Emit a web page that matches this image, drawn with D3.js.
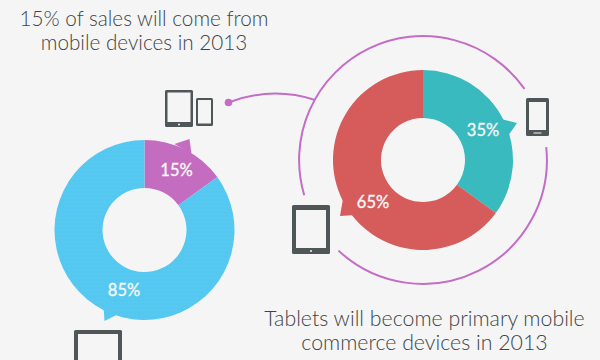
<!DOCTYPE html>
<html>
<head>
<meta charset="utf-8">
<title>Mobile sales donuts</title>
<script src="https://d3js.org/d3.v7.min.js"></script>
<style>
  html, body { margin: 0; padding: 0; background: #f5f5f5; overflow: hidden; }
  svg { display: block; }
  .caption { font-family: Lato, "Open Sans", sans-serif; font-weight: 300; fill: #3c4446; text-anchor: middle; }
  .top { font-size: 20.7px; }
  .bottom { font-size: 21.3px; }
  .label { font-family: Lato, "Open Sans", sans-serif; font-weight: 400; font-size: 16.5px; fill: #f7f7f7; stroke: #f7f7f7; stroke-width: 0.35; text-anchor: middle; }
</style>
</head>
<body>
<div id="chart"></div>
<script>
// values
const salesCategories = ["mobile", "other"];
const salesValues = [15, 85];
const salesColors = ["#c46cc0", "#54c8f0"];

const deviceCategories = ["phones", "tablets"];
const deviceValues = [35, 65];
const deviceColors = ["#38babf", "#d65c5c"];

const topCaption = ["15% of sales will come from", "mobile devices in 2013"];
const bottomCaption = ["Tablets will become primary mobile", "commerce devices in 2013"];

const width = 600, height = 360;
const outerR = 90, innerR = 42;
const ringColor = "#c46cc6", iconColor = "#4e5658";

const svg = d3.select("#chart").append("svg")
    .attr("width", width)
    .attr("height", height);

// faint dots on the blue slice
const dots = svg.append("defs").append("pattern")
    .attr("id", "dots")
    .attr("width", 4).attr("height", 4)
    .attr("patternUnits", "userSpaceOnUse");
dots.append("rect").attr("width", 4).attr("height", 4).attr("fill", "#54c8f0");
dots.append("rect").attr("width", 1).attr("height", 1).attr("fill", "#5ecdf2");

const pie = d3.pie().sort(null);
const arc = d3.arc().innerRadius(innerR).outerRadius(outerR);

function donut(cx, cy, values, colors, tails, labels) {
    const g = svg.append("g").attr("transform", `translate(${cx},${cy})`);
    const slices = pie(values);

    // speech bubble tails sit under the slices
    g.selectAll("polygon")
        .data(tails)
        .enter()
        .append("polygon")
        .attr("points", d => d.points.map(p => p.join(",")).join(" "))
        .attr("fill", d => colors[d.slice]);

    g.selectAll("path")
        .data(slices)
        .enter()
        .append("path")
        .attr("d", arc)
        .attr("fill", (d, i) => colors[i] === "#54c8f0" ? "url(#dots)" : colors[i]);

    g.selectAll("text")
        .data(slices)
        .enter()
        .append("text")
        .attr("class", "label")
        .attr("x", (d, i) => labels[i][0])
        .attr("y", (d, i) => labels[i][1])
        .text(d => d.value + "%");
}

donut(144.5, 230, salesValues, salesColors,
    [{slice: 0, points: [[30, -86], [45, -91], [47, -76]]},
     {slice: 1, points: [[-41, 76], [-40, 91], [-26, 84]]}],
    [[32, -54], [-20.5, 66]]);

donut(423, 160, deviceValues, deviceColors,
    [{slice: 0, points: [[78, -41], [94, -37], [85, -24]]},
     {slice: 1, points: [[-79, 33], [-83, 56], [-67, 55]]}],
    [[60, -24.5], [-50, 48]]);

// ring around the right donut, broken where the icons are
const ringArc = d3.arc().innerRadius(123.9).outerRadius(123.9);
const ringGaps = [[-106.5, 55], [84, 223]];
const toRad = d3.scaleLinear().domain([0, 180]).range([0, Math.PI]);
svg.append("g")
    .attr("transform", "translate(423,160)")
    .selectAll("path")
    .data(ringGaps)
    .enter()
    .append("path")
    .attr("d", d => ringArc({startAngle: toRad(d[0]), endAngle: toRad(d[1])}))
    .attr("fill", "none")
    .attr("stroke", ringColor)
    .attr("stroke-width", 2);

// connector from the small devices to the ring
svg.append("path")
    .attr("d", "M228.5,102.5 Q272,86 315,100")
    .attr("fill", "none")
    .attr("stroke", ringColor)
    .attr("stroke-width", 2);
svg.append("circle")
    .attr("cx", 228.5).attr("cy", 102.5).attr("r", 3.8)
    .attr("fill", ringColor);

// x, y, w, h, side and bottom bezel
function device(x, y, w, h, side, top, bottom, isPhone) {
    svg.append("rect")
        .attr("x", x).attr("y", y).attr("width", w).attr("height", h)
        .attr("rx", 1.5)
        .attr("fill", iconColor);
    svg.append("rect")
        .attr("x", x + side).attr("y", y + top)
        .attr("width", w - side * 2).attr("height", h - top - bottom)
        .attr("fill", "#f5f5f5");
    if (isPhone) {
        svg.append("rect")
            .attr("x", x + w / 2 - 4).attr("y", y + h - bottom + 2.5)
            .attr("width", 8).attr("height", 1)
            .attr("fill", "#f5f5f5");
    } else if (bottom > 3) {
        svg.append("circle")
            .attr("cx", x + w / 2).attr("cy", y + h - bottom / 2)
            .attr("r", 1)
            .attr("fill", "#f5f5f5");
    }
}
device(165, 90, 28, 37, 2.5, 2.5, 5, false);
device(196, 98, 17, 28, 2, 2, 2.5, null);
device(526, 98, 23, 38, 3, 4, 6, true);
device(292, 205, 38, 49, 4, 5, 6, false);
device(74, 330, 48, 62, 4, 4, 8, false);

svg.selectAll(".top")
    .data(topCaption)
    .enter()
    .append("text")
    .attr("class", "caption top")
    .attr("x", 144)
    .attr("y", (d, i) => 26 + i * 24)
    .text(d => d);

svg.selectAll(".bottom")
    .data(bottomCaption)
    .enter()
    .append("text")
    .attr("class", "caption bottom")
    .attr("x", 424.5)
    .attr("y", (d, i) => 326 + i * 24)
    .text(d => d);
</script>
</body>
</html>
